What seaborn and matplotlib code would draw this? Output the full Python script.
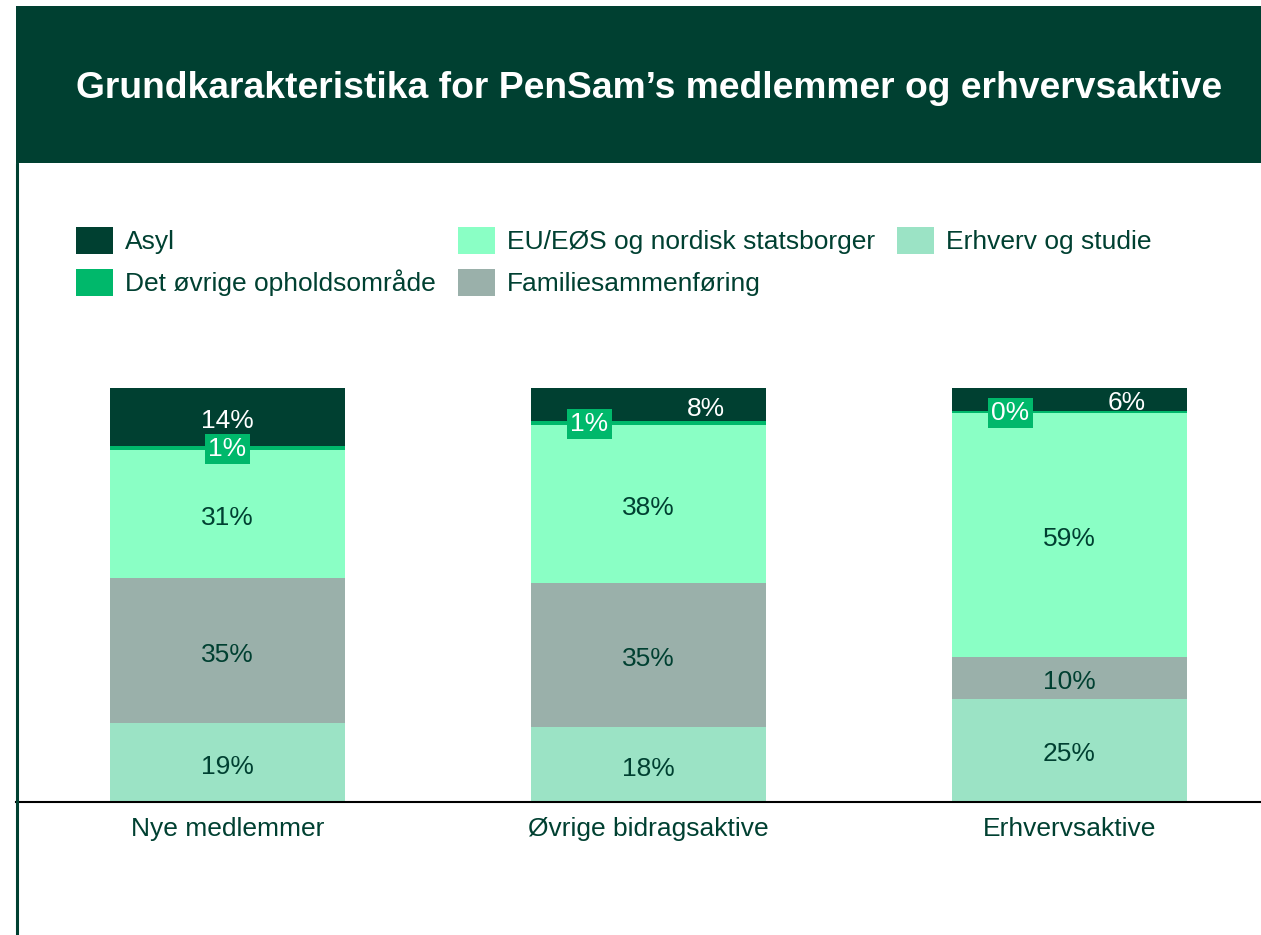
import matplotlib
matplotlib.use("Agg")
import matplotlib.pyplot as plt
import seaborn as sns
import numpy as np
from matplotlib.patches import Rectangle, Patch
from matplotlib.lines import Line2D

# ---- data ----
categories = ["Nye medlemmer", "Øvrige bidragsaktive", "Erhvervsaktive"]
erhverv_studie = [19, 18, 25]
familiesammenforing = [35, 35, 10]
eu_eos_nordisk = [31, 38, 59]
ovrige_ophold = [1, 1, 0.4]
asyl = [14, 8, 6]

series_names = ["Erhverv og studie", "Familiesammenføring",
                "EU/EØS og nordisk statsborger", "Det øvrige opholdsområde", "Asyl"]
series_values = [erhverv_studie, familiesammenforing, eu_eos_nordisk, ovrige_ophold, asyl]

DARK = "#004031"
colors = {
    "Asyl": DARK,
    "Det øvrige opholdsområde": "#00B86B",
    "EU/EØS og nordisk statsborger": "#8AFFC5",
    "Familiesammenføring": "#9AB0AA",
    "Erhverv og studie": "#9BE3C5",
}
text_colors = {
    "Asyl": "white",
    "Det øvrige opholdsområde": "white",
    "EU/EØS og nordisk statsborger": DARK,
    "Familiesammenføring": DARK,
    "Erhverv og studie": DARK,
}

sns.set_style("white")
plt.rcParams["font.family"] = ["Liberation Sans", "DejaVu Sans"]

W, H = 1261, 935
FS = 19
fig = plt.figure(figsize=(W / 100, H / 100), dpi=100)

# header band
fig.patches.append(Rectangle((16 / W, 1 - 163 / H), 1 - 16 / W, (163 - 6) / H,
                             transform=fig.transFigure, facecolor=DARK,
                             edgecolor="none", zorder=0))
fig.text(649 / W, 1 - 88 / H, "Grundkarakteristika for PenSam’s medlemmer og erhvervsaktive",
         color="white", fontsize=26.8, fontweight="bold", ha="center", va="center")
# left border line
fig.add_artist(Line2D([17 / W, 17 / W], [0, 1 - 163 / H], transform=fig.transFigure,
                      color=DARK, lw=2.2))

ax = fig.add_axes([16 / W, (H - 802) / H, (W - 16) / W, 414 / H])
bottom = np.zeros(len(categories))
for name, vals in zip(series_names, series_values):
    sns.barplot(x=categories, y=vals, bottom=bottom, color=colors[name],
                width=0.558, ax=ax, saturation=1, linewidth=0)
    bottom = bottom + np.array(vals)

ax.set_ylim(0, 100)
ax.set_xlim(-211.5 / 421, (1245 - 211.5) / 421)
ax.set_yticks([])
for s in ["top", "right", "left"]:
    ax.spines[s].set_visible(False)
ax.spines["bottom"].set_color("black")
ax.spines["bottom"].set_linewidth(1.5)
ax.tick_params(axis="x", length=0, pad=11, labelsize=FS, labelcolor=DARK)
ax.set_xlabel("")
ax.set_ylabel("")

# value labels
cum = np.zeros(len(categories))
for name, vals in zip(series_names, series_values):
    for i, v in enumerate(vals):
        yc = cum[i] + v / 2
        xc = i
        lab = f"{round(v)}%"
        if name == "Det øvrige opholdsområde":
            if i > 0:
                xc = i - 0.14
            ax.annotate(lab, (xc, yc), xytext=(0, -1), textcoords="offset pixels",
                        ha="center", va="center", fontsize=FS, color="white",
                        bbox=dict(boxstyle="square,pad=0.12", facecolor=colors[name],
                                  edgecolor="none"), zorder=5)
        else:
            if name == "Asyl" and i > 0:
                xc = i + 0.137
            ax.annotate(lab, (xc, yc), xytext=(0, -4), textcoords="offset pixels",
                        ha="center", va="center", fontsize=FS,
                        color=text_colors[name], zorder=5)
    cum = cum + np.array(vals)

# legend
legend_order = ["Asyl", "Det øvrige opholdsområde", "EU/EØS og nordisk statsborger",
                "Familiesammenføring", "Erhverv og studie"]
handles = [Patch(facecolor=colors[n], edgecolor="none") for n in legend_order]
leg = fig.legend(handles, legend_order, loc="upper left",
                 bbox_to_anchor=(76 / W, 1 - 227 / H), ncol=3, frameon=False,
                 fontsize=FS, handlelength=1.4, handleheight=1.2, handletextpad=0.45,
                 columnspacing=0.85, labelspacing=0.55, borderaxespad=0, borderpad=0)
for t in leg.get_texts():
    t.set_color(DARK)

fig.savefig("out.png", dpi=100)
